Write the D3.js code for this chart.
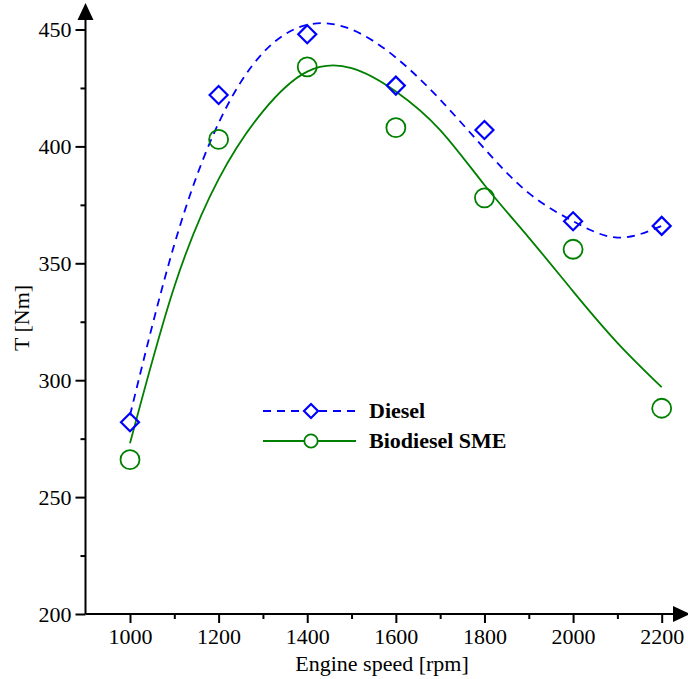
<!DOCTYPE html>
<html>
<head>
<meta charset="utf-8">
<script src="https://cdn.jsdelivr.net/npm/d3@7"></script>
<style>
body { margin: 0; background: #fff; }
svg, svg text { font-family: "Liberation Serif", "Times New Roman", serif !important; }
</style>
</head>
<body>
<svg></svg>
<script>
// measured points
const rpm = [1000, 1200, 1400, 1600, 1800, 2000, 2200];
const diesel = [282, 422, 448, 426, 407, 368, 366];
const biodiesel = [266, 403, 434, 408, 378, 356, 288];

// trend lines, every 100 rpm
const rpmFit = [1000, 1100, 1200, 1300, 1400, 1500, 1600, 1700, 1800, 1900, 2000, 2100, 2200];
const dieselFit = [285, 358, 410, 440, 452, 450, 438, 420, 399, 380, 368, 361, 366];
const biodieselFit = [273, 340, 386, 415, 432, 433.5, 423.5, 407, 383.5, 361, 338, 316, 297];

const yMajor = [200, 250, 300, 350, 400, 450];
const yMinor = [225, 275, 325, 375, 425];
const xMajor = [1000, 1200, 1400, 1600, 1800, 2000, 2200];
const xMinor = [1100, 1300, 1500, 1700, 1900, 2100];

const width = 688, height = 679;
const svg = d3.select("svg").attr("width", width).attr("height", height);

const x = d3.scaleLinear().domain([1000, 2200]).range([130, 661.7]);
const y = d3.scaleLinear().domain([200, 450]).range([614, 29.5]);
const x0 = 85.5, y0 = 614;

// minor ticks
svg.append("g")
  .attr("transform", `translate(${x0},0)`)
  .call(d3.axisLeft(y).tickValues(yMinor).tickSize(5).tickFormat(""))
  .call(g => g.select(".domain").remove());
svg.append("g")
  .attr("transform", `translate(0,${y0})`)
  .call(d3.axisBottom(x).tickValues(xMinor).tickSize(5).tickFormat(""))
  .call(g => g.select(".domain").remove());

// major ticks + labels
svg.append("g")
  .attr("transform", `translate(${x0},0)`)
  .call(d3.axisLeft(y).tickValues(yMajor).tickSize(10).tickPadding(4).tickFormat(d3.format("d")))
  .call(g => g.select(".domain").remove())
  .call(g => g.selectAll("text").attr("font-size", 22).attr("fill", "#000"));
svg.append("g")
  .attr("transform", `translate(0,${y0})`)
  .call(d3.axisBottom(x).tickValues(xMajor).tickSize(9).tickPadding(5).tickFormat(d3.format("d")))
  .call(g => g.select(".domain").remove())
  .call(g => g.selectAll("text").attr("font-size", 22).attr("fill", "#000"));

svg.selectAll(".tick line").attr("stroke", "#000").attr("stroke-width", 2);

// axis lines with arrows
svg.append("line").attr("x1", x0).attr("x2", x0).attr("y1", y0).attr("y2", 18)
  .attr("stroke", "#000").attr("stroke-width", 2);
svg.append("path").attr("d", `M${x0},3 L${x0 - 8},20 L${x0 + 8},20 Z`).attr("fill", "#000");
svg.append("line").attr("x1", x0).attr("x2", 676).attr("y1", y0).attr("y2", y0)
  .attr("stroke", "#000").attr("stroke-width", 2);
svg.append("path").attr("d", `M690,${y0} L673,${y0 - 8} L673,${y0 + 8} Z`).attr("fill", "#000");

// axis titles
svg.append("text").attr("x", 382).attr("y", 671).attr("text-anchor", "middle")
  .attr("font-size", 22).text("Engine speed [rpm]");
svg.append("text").attr("transform", "translate(29,318) rotate(-90)").attr("text-anchor", "middle")
  .attr("font-size", 22).text("T [Nm]");

const line = d3.line().x((d, i) => x(rpmFit[i])).y(d => y(d)).curve(d3.curveNatural);

svg.append("path").datum(dieselFit).attr("d", line)
  .attr("fill", "none").attr("stroke", "#0000ff").attr("stroke-width", 1.8)
  .attr("stroke-dasharray", "8,6");
svg.append("path").datum(biodieselFit).attr("d", line)
  .attr("fill", "none").attr("stroke", "#008000").attr("stroke-width", 1.8);

const diamond = s => `M0,${-s} L${s},0 L0,${s} L${-s},0 Z`;

svg.append("g").selectAll("path").data(diesel).join("path")
  .attr("transform", (d, i) => `translate(${x(rpm[i])},${y(d)})`)
  .attr("d", diamond(9))
  .attr("fill", "none").attr("stroke", "#0000ff").attr("stroke-width", 2.2);

svg.append("g").selectAll("circle").data(biodiesel).join("circle")
  .attr("cx", (d, i) => x(rpm[i])).attr("cy", d => y(d)).attr("r", 9.5)
  .attr("fill", "none").attr("stroke", "#008000").attr("stroke-width", 1.8);

// legend
const legend = svg.append("g");
legend.append("line").attr("x1", 263).attr("x2", 356).attr("y1", 411).attr("y2", 411)
  .attr("stroke", "#0000ff").attr("stroke-width", 1.8).attr("stroke-dasharray", "8,6");
legend.append("path").attr("transform", "translate(311,411)").attr("d", diamond(7))
  .attr("fill", "#fff").attr("stroke", "#0000ff").attr("stroke-width", 2.2);
legend.append("text").attr("x", 369).attr("y", 418).attr("font-size", 22).attr("font-weight", "bold").text("Diesel");
legend.append("line").attr("x1", 263).attr("x2", 356).attr("y1", 441).attr("y2", 441)
  .attr("stroke", "#008000").attr("stroke-width", 1.8);
legend.append("circle").attr("cx", 311).attr("cy", 441).attr("r", 6.7)
  .attr("fill", "#fff").attr("stroke", "#008000").attr("stroke-width", 1.8);
legend.append("text").attr("x", 369).attr("y", 448).attr("font-size", 22).attr("font-weight", "bold").text("Biodiesel SME");
</script>
</body>
</html>
